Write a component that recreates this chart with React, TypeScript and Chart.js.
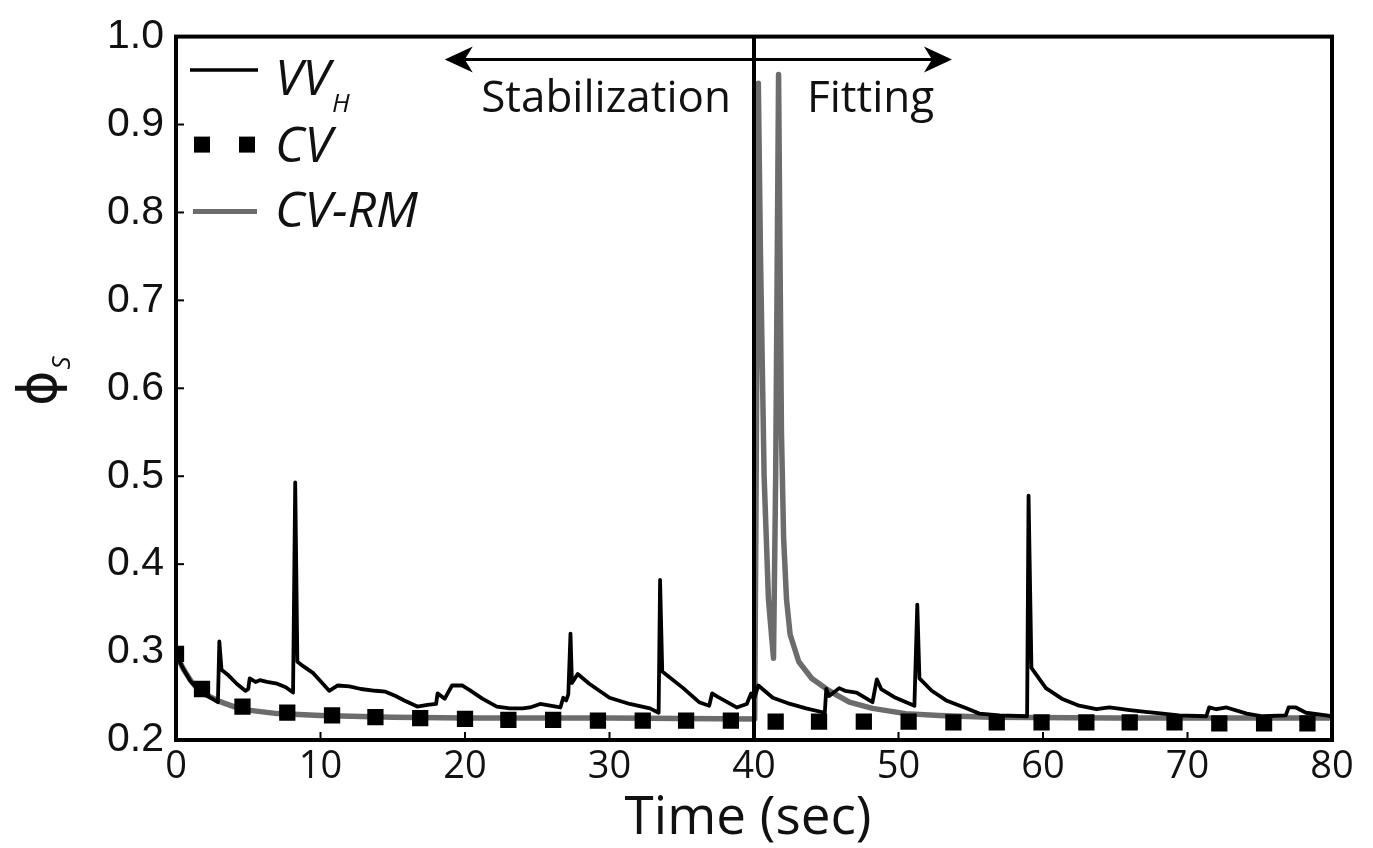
import React, { useEffect, useRef } from "react";
import { Chart, registerables } from "chart.js";

Chart.register(...registerables);

// ---- data ----
const vvhTime = [
  0, 0.5, 1, 1.5, 2, 2.5, 2.9, 3.0, 3.15, 3.6, 4.2, 4.8, 5.0, 5.1, 5.5, 5.8, 6.3, 7.0, 7.6, 8.1,
  8.25, 8.4, 8.8, 9.5, 10.1, 10.6, 11.2, 12.0, 12.8, 13.8, 14.5, 15.2, 15.8, 16.7, 17.4, 18.0, 18.1,
  18.6, 19.1, 19.8, 20.3, 21.2, 22.2, 23.1, 24.0, 24.5, 25.2, 25.9, 26.6, 26.8, 27.0, 27.15, 27.3,
  27.4, 27.8, 28.6, 30.0, 31.4, 32.8, 33.4, 33.5, 33.65, 35.1, 36.2, 36.9, 37.1, 37.5, 38.8, 39.5,
  39.8, 40.0, 40.3, 41.3, 42.5, 43.6, 44.9, 45.0, 45.2, 45.9, 46.3, 47.1, 48.2, 48.5, 48.8, 49.8,
  51.1, 51.3, 51.45, 52.3, 53.3, 54.7, 55.6, 57.0, 58.9, 59.0, 59.2, 60.2, 61.3, 62.5, 63.7, 64.6,
  66.0, 67.1, 68.3, 69.4, 71.3, 71.5, 72.0, 72.7, 74.1, 75.2, 76.8, 77.0, 77.5, 78.2, 79.6, 80.0,
];
const vvhPhi = [
  0.298, 0.281, 0.267, 0.258, 0.252, 0.247, 0.243, 0.312, 0.28, 0.274, 0.264, 0.256, 0.258, 0.27,
  0.266, 0.268, 0.266, 0.264, 0.26, 0.254, 0.493, 0.289, 0.284, 0.276, 0.265, 0.256, 0.262, 0.261,
  0.258, 0.256, 0.255, 0.25, 0.245, 0.238, 0.24, 0.241, 0.253, 0.247, 0.262, 0.262, 0.257, 0.247,
  0.238, 0.236, 0.236, 0.237, 0.241, 0.239, 0.237, 0.248, 0.245, 0.252, 0.321, 0.265, 0.275, 0.264,
  0.248, 0.241, 0.236, 0.231, 0.382, 0.278, 0.259, 0.243, 0.239, 0.253, 0.249, 0.237, 0.241, 0.253,
  0.246, 0.262, 0.248, 0.241, 0.236, 0.231, 0.258, 0.25, 0.259, 0.256, 0.254, 0.243, 0.269, 0.258,
  0.248, 0.239, 0.354, 0.27, 0.256, 0.245, 0.236, 0.23, 0.228, 0.227, 0.478, 0.282, 0.259, 0.247,
  0.239, 0.235, 0.237, 0.234, 0.232, 0.23, 0.228, 0.227, 0.237, 0.235, 0.237, 0.23, 0.227, 0.228,
  0.237, 0.237, 0.231, 0.228, 0.227,
];

const cvTime = [
  0, 1.8, 4.6, 7.7, 10.8, 13.8, 16.9, 20.0, 23.0, 26.1, 29.2, 32.3, 35.3, 38.4, 41.5, 44.5, 47.6,
  50.7, 53.8, 56.8, 59.9, 63.0, 66.0, 69.1, 72.2, 75.3, 78.3,
];
const cvPhi = [
  0.298, 0.258, 0.238, 0.231, 0.228, 0.226, 0.225, 0.224, 0.223, 0.223, 0.222, 0.222, 0.222, 0.222,
  0.221, 0.221, 0.221, 0.221, 0.22, 0.22, 0.22, 0.22, 0.22, 0.22, 0.219, 0.219, 0.219,
];

const cvrmTime = [
  0, 0.5, 1, 1.5, 2, 3, 4, 5, 7, 10, 15, 20, 30, 40.05, 40.15, 40.3, 40.45, 40.7, 41.0, 41.35,
  41.5, 41.7, 41.8, 41.9, 42.05, 42.25, 42.5, 43.1, 44.0, 45.2, 46.6, 48.2, 50.5, 52.8, 56.3, 65, 80,
];
const cvrmPhi = [
  0.298, 0.281, 0.268, 0.258, 0.252, 0.244, 0.238, 0.234, 0.23, 0.228, 0.226, 0.225, 0.225, 0.224,
  0.5, 0.947, 0.75, 0.5, 0.36, 0.293, 0.5, 0.957, 0.75, 0.55, 0.43, 0.36, 0.32, 0.289, 0.27, 0.256,
  0.243, 0.236, 0.23, 0.228, 0.226, 0.225, 0.225,
];

const xMin = 0;
const xMax = 80;
const xStep = 10;
const yMin = 0.2;
const yMax = 1.0;
const yStep = 0.1;

const seriesNames = ["VV", "CV", "CV-RM"];
const seriesSub = ["H", "", ""];
const phaseLabels = ["Stabilization", "Fitting"];
const phaseBoundary = 40;
const arrowStart = 18.6;
const arrowEnd = 53.7;
const arrowLevel = 0.974;
const xTitle = "Time (sec)";
const yTitleMain = "\u03D5";
const yTitleSub = "S";

const GRAY = "#6c6c6c";
const SANS = "'Open Sans', 'DejaVu Sans', sans-serif";

const overlayPlugin = {
  id: "overlay",
  afterDatasetsDraw(chart: any) {
    const { ctx, chartArea, scales } = chart;
    const { left, right, top, bottom } = chartArea;
    const x = scales.x;
    const y = scales.y;
    ctx.save();
    // phase boundary
    const bx = x.getPixelForValue(phaseBoundary);
    ctx.strokeStyle = "#000";
    ctx.lineWidth = 4;
    ctx.beginPath();
    ctx.moveTo(bx, top);
    ctx.lineTo(bx, bottom);
    ctx.stroke();

    // frame
    ctx.lineWidth = 4;
    ctx.strokeRect(left, top, right - left, bottom - top);

    // inward ticks
    ctx.lineWidth = 2;
    x.ticks.forEach((t: any) => {
      const px = x.getPixelForValue(t.value);
      ctx.beginPath();
      ctx.moveTo(px, bottom);
      ctx.lineTo(px, bottom - 8);
      ctx.stroke();
    });
    y.ticks.forEach((t: any) => {
      const py = y.getPixelForValue(t.value);
      ctx.beginPath();
      ctx.moveTo(left, py);
      ctx.lineTo(left + 8, py);
      ctx.stroke();
    });

    // double arrow
    const ay = y.getPixelForValue(arrowLevel);
    const a1 = x.getPixelForValue(arrowStart);
    const a2 = x.getPixelForValue(arrowEnd);
    ctx.lineWidth = 3;
    ctx.beginPath();
    ctx.moveTo(a1 + 12, ay);
    ctx.lineTo(a2 - 12, ay);
    ctx.stroke();
    const head = (tip: number, dir: number) => {
      ctx.beginPath();
      ctx.moveTo(tip, ay);
      ctx.lineTo(tip - dir * 28, ay - 13);
      ctx.lineTo(tip - dir * 20, ay);
      ctx.lineTo(tip - dir * 28, ay + 13);
      ctx.closePath();
      ctx.fillStyle = "#000";
      ctx.fill();
    };
    head(a1, -1);
    head(a2, 1);

    // phase labels
    ctx.fillStyle = "#111";
    ctx.font = `44px ${SANS}`;
    ctx.textBaseline = "alphabetic";
    ctx.textAlign = "right";
    ctx.fillText(phaseLabels[0], bx - 23, ay + 53);
    ctx.textAlign = "left";
    ctx.fillText(phaseLabels[1], bx + 53, ay + 53);

    // legend
    const lx = left + 14;
    const lw = 68;
    const tx = left + 99;
    const rows = [top + 33.5, top + 108, top + 175];
    const bases = [top + 58, top + 125, top + 190];
    ctx.strokeStyle = "#000";
    ctx.lineWidth = 3.5;
    ctx.beginPath();
    ctx.moveTo(lx, rows[0]);
    ctx.lineTo(lx + lw, rows[0]);
    ctx.stroke();
    ctx.fillStyle = "#000";
    [lx + 12, lx + 57].forEach((cx) => ctx.fillRect(cx - 8, rows[1] - 8, 16, 16));
    ctx.strokeStyle = GRAY;
    ctx.lineWidth = 5;
    ctx.beginPath();
    ctx.moveTo(lx + 3, rows[2]);
    ctx.lineTo(lx + lw - 1, rows[2]);
    ctx.stroke();
    ctx.fillStyle = "#111";
    ctx.textAlign = "left";
    seriesNames.forEach((name, i) => {
      ctx.font = `italic 50px ${SANS}`;
      ctx.fillText(name, tx, bases[i]);
      if (seriesSub[i]) {
        const w = ctx.measureText(name).width;
        ctx.font = `italic 26px ${SANS}`;
        ctx.fillText(seriesSub[i], tx + w + 2, bases[i] + 17);
      }
    });

    // x title
    ctx.font = `53px ${SANS}`;
    ctx.textAlign = "center";
    ctx.fillText(xTitle, (left + right) / 2 - 6, bottom + 94);

    // y title (rotated)
    ctx.save();
    ctx.translate(56, (top + bottom) / 2);
    ctx.rotate(-Math.PI / 2);
    ctx.font = `54px 'DejaVu Sans', sans-serif`;
    ctx.textAlign = "center";
    ctx.fillText(yTitleMain, 0, 0);
    const pw = ctx.measureText(yTitleMain).width;
    ctx.font = `italic 26px ${SANS}`;
    ctx.textAlign = "left";
    ctx.fillText(yTitleSub, pw / 2 + 1, 14);
    ctx.restore();

    ctx.restore();
  },
};

export default function App() {
  const canvasRef = useRef<HTMLCanvasElement | null>(null);

  useEffect(() => {
    if (!canvasRef.current) return;
    const toPts = (xs: number[], ys: number[]) => xs.map((t, i) => ({ x: t, y: ys[i] }));
    const chart = new Chart(canvasRef.current, {
      type: "line",
      data: {
        datasets: [
          {
            label: "VV_H",
            data: toPts(vvhTime, vvhPhi),
            borderColor: "#000",
            borderWidth: 3.8,
            pointRadius: 0,
            tension: 0,
            borderJoinStyle: "round",
            order: 0,
          },
          {
            label: "CV",
            data: toPts(cvTime, cvPhi),
            showLine: false,
            pointStyle: "rect",
            pointRadius: 11.5,
            backgroundColor: "#000",
            borderColor: "#000",
            borderWidth: 0,
            order: 1,
          },
          {
            label: "CV-RM",
            data: toPts(cvrmTime, cvrmPhi),
            borderColor: GRAY,
            borderWidth: 5.5,
            pointRadius: 0,
            tension: 0,
            borderJoinStyle: "round",
            order: 2,
          },
        ] as any,
      },
      options: {
        animation: false,
        responsive: true,
        maintainAspectRatio: false,
        layout: { padding: { top: 27, right: 41, left: 0, bottom: 0 } },
        plugins: { legend: { display: false }, tooltip: { enabled: false } },
        scales: {
          x: {
            type: "linear",
            min: xMin,
            max: xMax,
            grid: { display: false, drawTicks: false },
            border: { display: false },
            ticks: {
              stepSize: xStep,
              padding: 4,
              color: "#111",
              font: { family: "'Open Sans', sans-serif", size: 38 },
            },
            afterFit: (s: any) => {
              s.height = 108;
            },
          },
          y: {
            type: "linear",
            min: yMin,
            max: yMax,
            grid: { display: false, drawTicks: false },
            border: { display: false },
            ticks: {
              stepSize: yStep,
              padding: 12,
              color: "#111",
              font: { family: "'Liberation Sans', Arial, sans-serif", size: 41 },
              callback: (v: any) => Number(v).toFixed(1),
            },
            afterFit: (s: any) => {
              s.width = 176;
            },
          },
        },
      } as any,
      plugins: [overlayPlugin],
    });
    return () => chart.destroy();
  }, []);

  return (
    <div style={{ position: "absolute", left: 0, top: 0, width: 1373, height: 848, background: "#fff" }}>
      <canvas ref={canvasRef} />
    </div>
  );
}
